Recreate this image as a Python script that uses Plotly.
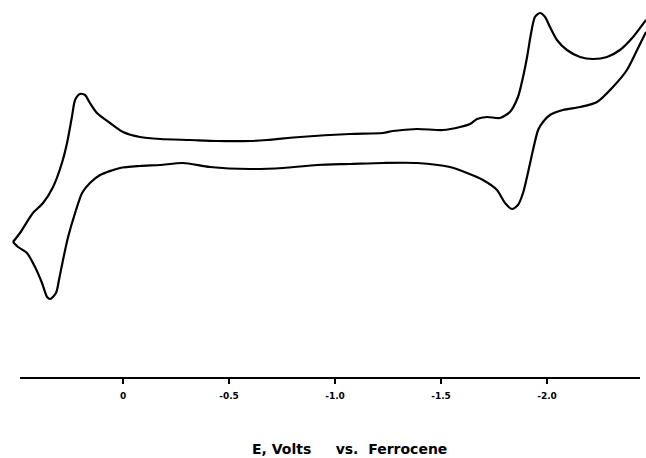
import plotly.graph_objects as go

# Potential (V vs. Ferrocene) and current (arbitrary units)
# Upper branch: from left vertex sweeping toward negative potential
E_upper = [0.519, 0.486, 0.425, 0.377, 0.330, 0.288, 0.264, 0.241, 0.226, 0.203,
           0.179, 0.156, 0.123, 0.061, 0.000, -0.080, -0.175, -0.316, -0.443, -0.599,
           -0.679, -0.835, -1.071, -1.226, -1.274, -1.387, -1.509, -1.590, -1.637, -1.670,
           -1.717, -1.778, -1.825, -1.863, -1.887, -1.906, -1.925, -1.943, -1.967, -1.991,
           -2.014, -2.047, -2.094, -2.156, -2.217, -2.283, -2.344, -2.406, -2.467]
i_upper = [13.5, 14.4, 16.4, 17.4, 19.0, 21.4, 23.4, 26.0, 27.7, 28.3,
           28.2, 27.4, 26.4, 25.4, 24.5, 24.0, 23.8, 23.7, 23.6, 23.6,
           23.7, 24.0, 24.3, 24.4, 24.6, 24.8, 24.7, 25.0, 25.3, 25.8,
           26.0, 25.9, 26.5, 28.0, 30.0, 32.0, 34.4, 36.0, 36.4, 36.0,
           35.0, 33.7, 32.7, 32.0, 31.8, 32.0, 32.7, 34.0, 35.7]

# Lower branch: return sweep toward positive potential
E_lower = [-2.467, -2.425, -2.377, -2.311, -2.236, -2.156, -2.075, -2.014, -1.981, -1.958,
           -1.934, -1.910, -1.887, -1.863, -1.835, -1.802, -1.764, -1.698, -1.623, -1.542,
           -1.387, -1.226, -1.071, -0.915, -0.755, -0.599, -0.410, -0.283, -0.175, -0.080,
           0.014, 0.108, 0.156, 0.193, 0.226, 0.259, 0.283, 0.302, 0.316, 0.344,
           0.358, 0.382, 0.415, 0.453, 0.495, 0.519]
i_lower = [34.5, 32.7, 30.7, 29.0, 27.5, 27.0, 26.7, 26.2, 25.5, 24.7,
           22.7, 20.4, 18.4, 17.2, 16.8, 17.4, 18.7, 19.7, 20.4, 21.0,
           21.4, 21.4, 21.3, 21.2, 20.9, 20.8, 21.0, 21.4, 21.2, 21.1,
           20.9, 20.2, 19.4, 18.4, 16.4, 14.0, 11.7, 9.7, 8.4, 7.8,
           8.0, 9.4, 11.0, 12.4, 13.0, 13.5]

tick_vals = [0, -0.5, -1.0, -1.5, -2.0]
tick_text = ["0", "-0.5", "-1.0", "-1.5", "-2.0"]
x_title = "E, Volts\u00a0\u00a0\u00a0\u00a0 vs.\u00a0 Ferrocene"

W, H = 646, 458
plot_bottom = 377
px_per_volt = 212.0
zero_px = 123.0
axis_left_px, axis_right_px = 20.0, 640.0

def px_to_E(px):
    return (zero_px - px) / px_per_volt

fig = go.Figure()
fig.add_trace(go.Scatter(
    x=E_upper + [None] + E_lower,
    y=i_upper + [None] + i_lower,
    mode="lines", line=dict(color="black", width=2.2, shape="spline", smoothing=0.7),
    hoverinfo="skip", showlegend=False, connectgaps=False,
))
# invisible anchor trace for the visible potential axis
fig.add_trace(go.Scatter(
    x=[tick_vals[0]], y=[0], xaxis="x2", yaxis="y2", mode="markers",
    marker=dict(opacity=0), hoverinfo="skip", showlegend=False,
))

y_top = plot_bottom / 10.0
fig.update_layout(
    width=W, height=H,
    margin=dict(l=0, r=0, t=0, b=H - plot_bottom),
    paper_bgcolor="white", plot_bgcolor="rgba(0,0,0,0)",
    xaxis=dict(range=[px_to_E(0), px_to_E(W)], domain=[0, 1], visible=False),
    yaxis=dict(range=[0, y_top], domain=[0, 1], visible=False),
    xaxis2=dict(
        range=[px_to_E(axis_left_px), px_to_E(axis_right_px)],
        domain=[axis_left_px / W, axis_right_px / W],
        anchor="y2", showgrid=False, zeroline=False,
        showline=True, linecolor="black", linewidth=2,
        ticks="outside", ticklen=5, tickwidth=1.5, tickcolor="black",
        tickvals=tick_vals, ticktext=tick_text, ticklabelstandoff=4,
        tickfont=dict(family="DejaVu Sans", size=9, color="black", weight="bold"),
    ),
    yaxis2=dict(range=[0, y_top], domain=[0, 1], visible=False, anchor="x2"),
    annotations=[dict(
        text=x_title, xref="paper", yref="paper",
        x=349 / W, y=(plot_bottom - 449) / plot_bottom,
        xanchor="center", yanchor="middle", showarrow=False,
        font=dict(family="DejaVu Sans", size=14, color="black", weight="bold"),
    )],
)

fig.write_html(
    "out.html",
    config={"displayModeBar": False, "staticPlot": True},
    post_script="document.body.style.margin='0';document.body.style.overflow='hidden';",
)
